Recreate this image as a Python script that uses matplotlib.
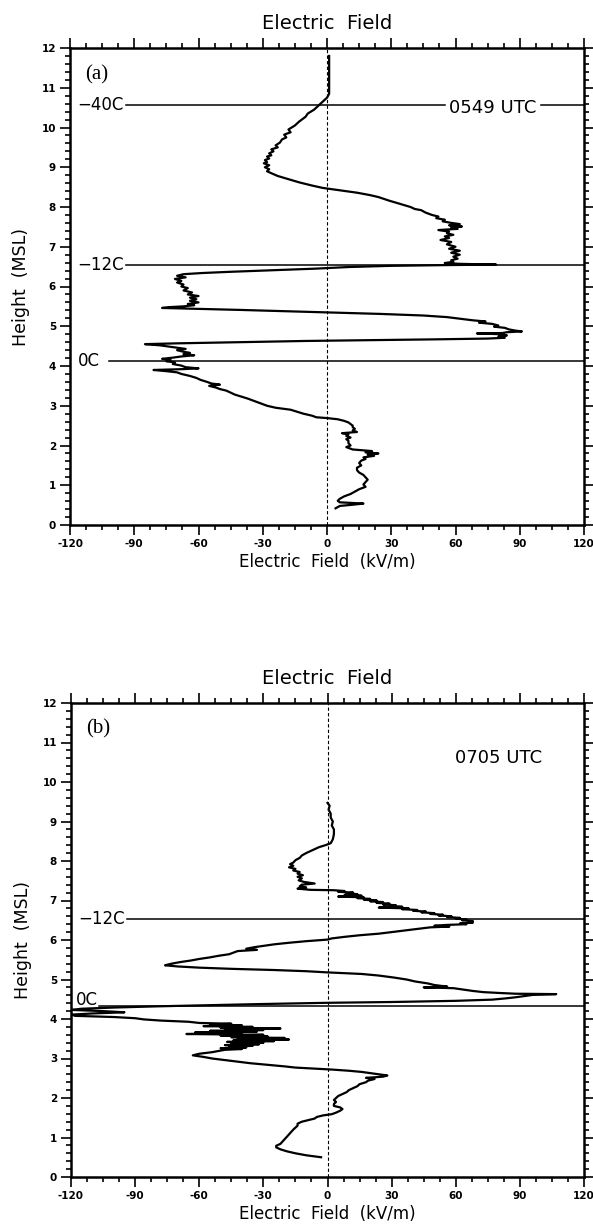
import matplotlib
matplotlib.use("Agg")
import matplotlib.pyplot as plt
from matplotlib.ticker import MultipleLocator

plt.rcParams['font.family'] = ['DejaVu Sans']
plt.rcParams['axes.unicode_minus'] = False

# ---------------- data ----------------
# Panel (a) 0549 UTC profile: height (km MSL) and electric field (kV/m)
a_height = [11.80, 11.20, 10.85, 10.75, 10.65, 10.55, 10.45, 10.35, 10.27, 10.15,
            10.05, 9.95, 9.88, 9.82, 9.75, 9.70, 9.62, 9.55, 9.50, 9.45,
            9.40, 9.35, 9.30, 9.27, 9.22, 9.18, 9.13, 9.10, 9.05, 9.00,
            8.95, 8.90, 8.85, 8.78, 8.70, 8.62, 8.54, 8.48, 8.45, 8.40,
            8.36, 8.30, 8.25, 8.16, 8.08, 8.00, 7.95, 7.92, 7.86, 7.80,
            7.76, 7.72, 7.68, 7.64, 7.60, 7.57, 7.54, 7.51, 7.48, 7.45,
            7.42, 7.38, 7.34, 7.30, 7.26, 7.22, 7.17, 7.12, 7.06, 7.00,
            6.95, 6.90, 6.85, 6.80, 6.75, 6.70, 6.66, 6.62, 6.59, 6.57,
            6.55, 6.54, 6.52, 6.49, 6.45, 6.41, 6.37, 6.34, 6.31, 6.27,
            6.23, 6.19, 6.14, 6.10, 6.05, 6.00, 5.96, 5.90, 5.85, 5.80,
            5.76, 5.72, 5.68, 5.64, 5.60, 5.56, 5.53, 5.50, 5.48, 5.46,
            5.44, 5.41, 5.38, 5.35, 5.31, 5.27, 5.23, 5.19, 5.15, 5.12,
            5.09, 5.06, 5.02, 4.99, 4.96, 4.92, 4.89, 4.87, 4.85, 4.83,
            4.82, 4.80, 4.77, 4.74, 4.71, 4.69, 4.67, 4.65, 4.63, 4.60,
            4.57, 4.55, 4.52, 4.49, 4.46, 4.43, 4.40, 4.37, 4.33, 4.30,
            4.27, 4.24, 4.21, 4.18, 4.15, 4.12, 4.09, 4.05, 4.01, 3.97,
            3.94, 3.92, 3.90, 3.87, 3.84, 3.80, 3.75, 3.70, 3.65, 3.60,
            3.56, 3.53, 3.50, 3.46, 3.42, 3.38, 3.33, 3.28, 3.23, 3.18,
            3.12, 3.06, 3.00, 2.95, 2.90, 2.85, 2.80, 2.75, 2.71, 2.69,
            2.66, 2.62, 2.58, 2.54, 2.50, 2.46, 2.42, 2.38, 2.34, 2.31,
            2.28, 2.24, 2.20, 2.16, 2.12, 2.06, 2.00, 1.96, 1.90, 1.86,
            1.83, 1.80, 1.77, 1.74, 1.70, 1.66, 1.62, 1.56, 1.50, 1.44,
            1.38, 1.32, 1.26, 1.20, 1.14, 1.08, 1.02, 0.96, 0.90, 0.84,
            0.78, 0.72, 0.66, 0.61, 0.57, 0.54, 0.51, 0.48, 0.45, 0.42]
a_field = [1, 1, 1, 0, -2, -4, -6, -9, -10, -13,
           -15, -18, -17, -20, -19, -21, -22, -24, -23, -26,
           -25, -27, -26, -28, -27, -29, -28, -29.5, -27, -29,
           -27, -28, -26, -23, -18, -13, -7, -2, 2, 9,
           14, 20, 24, 29, 34, 39, 41, 44, 46, 49,
           52, 51, 55, 54, 58, 62, 57, 63, 58, 61,
           52, 57, 56, 59, 55, 57, 53, 58, 56, 60,
           57, 62, 58, 62, 59, 61, 58, 59, 55, 62,
           79, 58, 30, 10, -5, -25, -45, -58, -67, -70,
           -66, -71, -68, -70, -67, -68, -65, -67, -63, -65,
           -60, -64, -61, -64, -60, -65, -62, -67, -74, -77,
           -62, -40, -20, 0, 25, 45, 56, 62, 68, 74,
           71, 77, 80, 78, 83, 85, 88, 91, 84, 82,
           70, 81, 84, 80, 83, 75, 50, 20, -10, -40,
           -70, -85, -78, -74, -70, -66, -70, -68, -64, -67,
           -62, -68, -72, -77, -73, -75, -71, -72, -68, -66,
           -60, -68, -81, -75, -70, -68, -64, -61, -59, -56,
           -54, -50, -55, -52, -50, -47, -45, -43, -40, -37,
           -34, -31, -28, -24, -17, -14, -11, -7, -5, 0,
           5, 8, 10, 11, 12, 12, 13, 12, 14, 7,
           10, 9, 11, 9, 10, 10, 11, 9, 12, 21,
           18, 24, 19, 22, 17, 18, 16, 15, 16, 14,
           14, 15, 17, 18, 19, 18, 17, 18, 15, 13,
           11, 8, 6, 5, 6, 17, 12, 6, 5, 4]

# Panel (b) 0705 UTC profile
b_height = [9.47, 9.40, 9.30, 9.20, 9.10, 9.00, 8.90, 8.80, 8.68, 8.55,
            8.45, 8.40, 8.35, 8.30, 8.25, 8.20, 8.14, 8.08, 8.02, 7.96,
            7.92, 7.88, 7.84, 7.80, 7.76, 7.72, 7.68, 7.64, 7.60, 7.56,
            7.51, 7.47, 7.43, 7.40, 7.36, 7.33, 7.30, 7.27, 7.26, 7.24,
            7.22, 7.20, 7.18, 7.16, 7.14, 7.12, 7.10, 7.08, 7.06, 7.04,
            7.02, 7.00, 6.98, 6.96, 6.94, 6.92, 6.90, 6.88, 6.86, 6.84,
            6.82, 6.80, 6.78, 6.76, 6.74, 6.72, 6.70, 6.68, 6.66, 6.64,
            6.62, 6.60, 6.58, 6.56, 6.54, 6.52, 6.50, 6.48, 6.46, 6.44,
            6.42, 6.40, 6.38, 6.36, 6.34, 6.32, 6.30, 6.28, 6.24, 6.20,
            6.16, 6.12, 6.08, 6.04, 6.01, 5.97, 5.93, 5.89, 5.86, 5.82,
            5.78, 5.75, 5.72, 5.68, 5.64, 5.60, 5.56, 5.52, 5.48, 5.44,
            5.40, 5.36, 5.33, 5.30, 5.27, 5.24, 5.21, 5.18, 5.14, 5.10,
            5.05, 5.00, 4.95, 4.90, 4.86, 4.82, 4.80, 4.78, 4.74, 4.71,
            4.68, 4.66, 4.64, 4.63, 4.61, 4.58, 4.55, 4.52, 4.49, 4.46,
            4.43, 4.41, 4.38, 4.35, 4.32, 4.29, 4.26, 4.23, 4.20, 4.17,
            4.14, 4.11, 4.08, 4.05, 4.02, 3.99, 3.96, 3.93, 3.90, 3.88,
            3.86, 3.84, 3.82, 3.80, 3.78, 3.76, 3.74, 3.72, 3.70, 3.68,
            3.66, 3.64, 3.62, 3.60, 3.58, 3.56, 3.54, 3.52, 3.50, 3.48,
            3.46, 3.44, 3.42, 3.40, 3.38, 3.36, 3.34, 3.32, 3.30, 3.28,
            3.26, 3.24, 3.22, 3.20, 3.16, 3.12, 3.08, 3.04, 3.00, 2.96,
            2.92, 2.88, 2.84, 2.80, 2.77, 2.74, 2.72, 2.69, 2.66, 2.63,
            2.60, 2.57, 2.54, 2.51, 2.48, 2.44, 2.40, 2.35, 2.30, 2.25,
            2.20, 2.15, 2.10, 2.05, 2.00, 1.95, 1.90, 1.85, 1.80, 1.76,
            1.72, 1.68, 1.63, 1.59, 1.56, 1.52, 1.48, 1.44, 1.40, 1.35,
            1.30, 1.25, 1.20, 1.14, 1.08, 1.02, 0.96, 0.90, 0.84, 0.79,
            0.75, 0.70, 0.65, 0.60, 0.55, 0.52, 0.50]
b_field = [0, 1, 0.5, 1.5, 1.5, 2.5, 2, 3, 3, 2.5,
           1.5, -1, -4, -6, -8, -10, -12, -13, -15, -16,
           -17.5, -16, -18, -15, -16, -13, -14, -11.5, -14, -12,
           -13.5, -11, -6, -12, -13, -10, -14, -8, 3, 8,
           5, 12, 9, 14, 8, 16, 5, 17, 14, 20,
           17, 23, 20, 26, 23, 29, 26, 32, 29, 35,
           24, 38, 35, 42, 40, 46, 44, 50, 48, 54,
           52, 58, 56, 62, 60, 65, 63, 68, 66, 68,
           62, 65, 55, 50, 57, 48, 45, 42, 36, 30,
           24, 15, 8, 2, 0, -10, -18, -25, -29, -34,
           -38, -33, -42, -44, -46, -51, -55, -60, -64, -69,
           -73, -76, -70, -60, -45, -25, -10, 0, 16, 24,
           31, 37, 41, 47, 50, 56, 45, 59, 64, 68,
           73, 80, 88, 107, 96, 92, 88, 83, 77, 60,
           30, 0, -30, -55, -80, -100, -115, -120, -105, -95,
           -110, -120, -118, -100, -90, -86, -78, -65, -60, -45,
           -55, -40, -58, -35, -50, -22, -48, -30, -55, -33,
           -62, -40, -66, -30, -50, -28, -45, -20, -42, -18,
           -44, -25, -47, -30, -45, -32, -48, -35, -46, -38,
           -50, -40, -48, -50, -54, -60, -63, -58, -54, -48,
           -42, -36, -28, -20, -15, -5, 2, 10, 16, 20,
           24, 28, 26, 18, 22, 19, 18, 15, 14, 12,
           10, 9, 7, 5, 4, 3, 4, 3, 3, 6,
           7, 6, 4, 2, -2, -5, -6, -9, -12, -14,
           -14, -15, -16, -17, -18, -19, -20, -21, -22, -24,
           -24, -22, -19, -15, -10, -6, -3]

# isotherm annotations: label, height (km), start of line (kV/m)
a_iso_labels = ['\u221240C', '\u221212C', '0C']
a_iso_heights = [10.56, 6.55, 4.12]
a_iso_starts = [-94, -94, -102]
b_iso_labels = ['\u221212C', '0C']
b_iso_heights = [6.52, 4.33]
b_iso_starts = [-94, -107]

panel_tags = ['(a)', '(b)']
panel_times = ['0549 UTC', '0705 UTC']

x_ticks = [-120, -90, -60, -30, 0, 30, 60, 90, 120]
y_ticks = list(range(0, 13))

# ---------------- figure ----------------
fig = plt.figure(figsize=(5.93, 12.24), dpi=100)
W, H = 593.0, 1224.0
ax_a = fig.add_axes([70 / W, (H - 525) / H, 514 / W, 477 / H])
ax_b = fig.add_axes([71 / W, (H - 1177) / H, 513 / W, 474 / H])


def style_axes(ax):
    ax.set_xlim(-120, 120)
    ax.set_ylim(0, 12)
    ax.set_xticks(x_ticks)
    ax.set_yticks(y_ticks)
    ax.xaxis.set_minor_locator(MultipleLocator(7.5))
    ax.yaxis.set_minor_locator(MultipleLocator(0.2))
    ax.tick_params(which='both', direction='out', top=True, right=True,
                   labeltop=False, labelright=False, width=1.2, colors='black')
    ax.tick_params(which='major', length=7, labelsize=7.5, pad=3)
    ax.tick_params(which='minor', length=3.5)
    for lab in ax.get_xticklabels() + ax.get_yticklabels():
        lab.set_fontweight('bold')
    for sp in ax.spines.values():
        sp.set_linewidth(1.8)
    ax.axvline(0, color='black', lw=0.8, ls=(0, (3, 2)))
    ax.set_title('Electric  Field', fontsize=14, pad=14)
    ax.set_xlabel('Electric  Field  (kV/m)', fontsize=12, labelpad=3)
    ax.set_ylabel('Height  (MSL)', fontsize=12.5, labelpad=8)


# panel (a)
style_axes(ax_a)
ax_a.plot(a_field, a_height, color='black', lw=1.6, solid_joinstyle='round')
for lab, h, xs in zip(a_iso_labels, a_iso_heights, a_iso_starts):
    ax_a.text(-116.5, h, lab, fontsize=12, ha='left', va='center')
    if lab == '\u221240C':
        ax_a.plot([xs, 55], [h, h], color='black', lw=1.1)
        ax_a.plot([100, 120], [h, h], color='black', lw=1.1)
    else:
        ax_a.plot([xs, 120], [h, h], color='black', lw=1.1)
ax_a.text(77.5, 10.48, panel_times[0], fontsize=13, ha='center', va='center')
ax_a.text(-113, 11.33, panel_tags[0], fontsize=15, ha='left', va='center',
          family=['Liberation Serif', 'DejaVu Serif'])

# panel (b)
style_axes(ax_b)
ax_b.plot(b_field, b_height, color='black', lw=1.6, solid_joinstyle='round')
for lab, h, xs in zip(b_iso_labels, b_iso_heights, b_iso_starts):
    if lab == '0C':
        ax_b.text(-117.5, h + 0.14, lab, fontsize=12, ha='left', va='center')
    else:
        ax_b.text(-116.5, h, lab, fontsize=12, ha='left', va='center')
    ax_b.plot([xs, 120], [h, h], color='black', lw=1.1)
ax_b.text(80, 10.6, panel_times[1], fontsize=13, ha='center', va='center')
ax_b.text(-113, 11.34, panel_tags[1], fontsize=15, ha='left', va='center',
          family=['Liberation Serif', 'DejaVu Serif'])

fig.savefig('out.png', dpi=100)
